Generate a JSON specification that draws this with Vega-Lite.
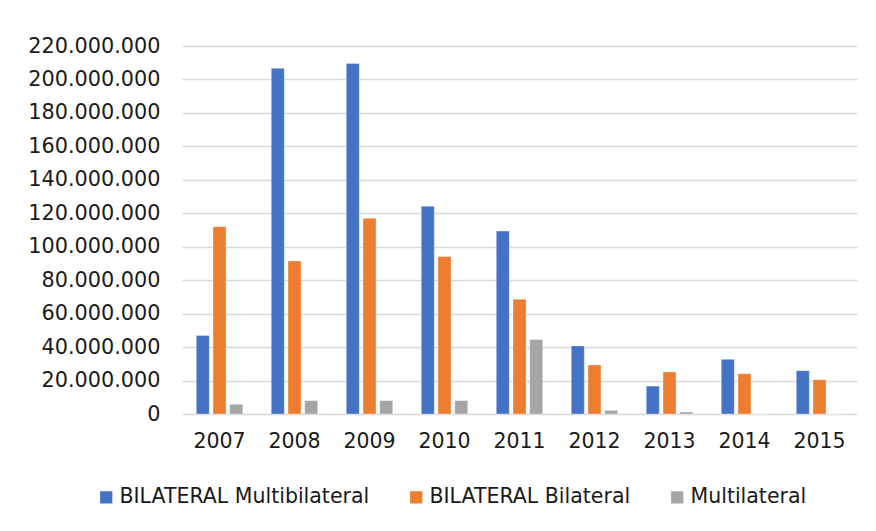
{
  "$schema": "https://vega.github.io/schema/vega-lite/v6.json",
  "autosize": "none",
  "width": 675,
  "height": 368,
  "padding": {"left": 182, "top": 46, "right": 19, "bottom": 117},
  "background": "white",
  "config": {
    "locale": {"number": {"decimal": ",", "thousands": ".", "grouping": [3], "currency": ["", " €"]}},
    "view": {"stroke": null},
    "font": "DejaVu Sans"
  },
  "data": {
    "values": [
      {"year": "2007", "series": "BILATERAL Multibilateral", "value": 47000000},
      {"year": "2007", "series": "BILATERAL Bilateral", "value": 112000000},
      {"year": "2007", "series": "Multilateral", "value": 5800000},
      {"year": "2008", "series": "BILATERAL Multibilateral", "value": 206700000},
      {"year": "2008", "series": "BILATERAL Bilateral", "value": 91500000},
      {"year": "2008", "series": "Multilateral", "value": 8000000},
      {"year": "2009", "series": "BILATERAL Multibilateral", "value": 209600000},
      {"year": "2009", "series": "BILATERAL Bilateral", "value": 117000000},
      {"year": "2009", "series": "Multilateral", "value": 8000000},
      {"year": "2010", "series": "BILATERAL Multibilateral", "value": 124200000},
      {"year": "2010", "series": "BILATERAL Bilateral", "value": 94100000},
      {"year": "2010", "series": "Multilateral", "value": 8000000},
      {"year": "2011", "series": "BILATERAL Multibilateral", "value": 109400000},
      {"year": "2011", "series": "BILATERAL Bilateral", "value": 68600000},
      {"year": "2011", "series": "Multilateral", "value": 44600000},
      {"year": "2012", "series": "BILATERAL Multibilateral", "value": 40700000},
      {"year": "2012", "series": "BILATERAL Bilateral", "value": 29300000},
      {"year": "2012", "series": "Multilateral", "value": 2200000},
      {"year": "2013", "series": "BILATERAL Multibilateral", "value": 16700000},
      {"year": "2013", "series": "BILATERAL Bilateral", "value": 25100000},
      {"year": "2013", "series": "Multilateral", "value": 1200000},
      {"year": "2014", "series": "BILATERAL Multibilateral", "value": 32700000},
      {"year": "2014", "series": "BILATERAL Bilateral", "value": 24100000},
      {"year": "2014", "series": "Multilateral", "value": 0},
      {"year": "2015", "series": "BILATERAL Multibilateral", "value": 25900000},
      {"year": "2015", "series": "BILATERAL Bilateral", "value": 20500000},
      {"year": "2015", "series": "Multilateral", "value": 0}
    ]
  },
  "mark": {"type": "bar", "stroke": "white", "strokeWidth": 0.6, "strokeOpacity": 0.6},
  "encoding": {
    "x": {
      "field": "year", "type": "nominal",
      "scale": {"paddingInner": 0.38, "paddingOuter": 0.19},
      "axis": {
        "title": null, "labelAngle": 0, "ticks": false, "domain": false,
        "labelFontSize": 20.5, "labelColor": "#1a1a1a", "labelPadding": 17,
        "labelFont": "DejaVu Sans"
      }
    },
    "xOffset": {
      "field": "series", "type": "nominal",
      "sort": ["BILATERAL Multibilateral", "BILATERAL Bilateral", "Multilateral"],
      "scale": {"paddingInner": 0.22, "paddingOuter": 0}
    },
    "y": {
      "field": "value", "type": "quantitative",
      "scale": {"domain": [0, 220000000], "nice": false},
      "axis": {
        "title": null, "values": [0, 20000000, 40000000, 60000000, 80000000, 100000000, 120000000, 140000000, 160000000, 180000000, 200000000, 220000000],
        "format": ",d", "ticks": false, "domain": false,
        "labelFontSize": 20.8, "labelColor": "#1a1a1a", "labelPadding": 22,
        "labelFont": "DejaVu Sans",
        "gridColor": "#d9d9d9", "gridWidth": 1.6
      }
    },
    "color": {
      "field": "series", "type": "nominal",
      "scale": {
        "domain": ["BILATERAL Multibilateral", "BILATERAL Bilateral", "Multilateral"],
        "range": ["#4472C4", "#ED7D31", "#A5A5A5"]
      },
      "legend": {
        "title": null, "orient": "none", "direction": "horizontal",
        "legendX": -86, "legendY": 441,
        "symbolType": "square", "symbolSize": 150, "symbolStrokeWidth": 0,
        "labelFontSize": 20.5, "labelColor": "#1a1a1a", "labelFont": "DejaVu Sans",
        "labelOffset": 3, "columnPadding": 36, "labelLimit": 400
      }
    }
  }
}
